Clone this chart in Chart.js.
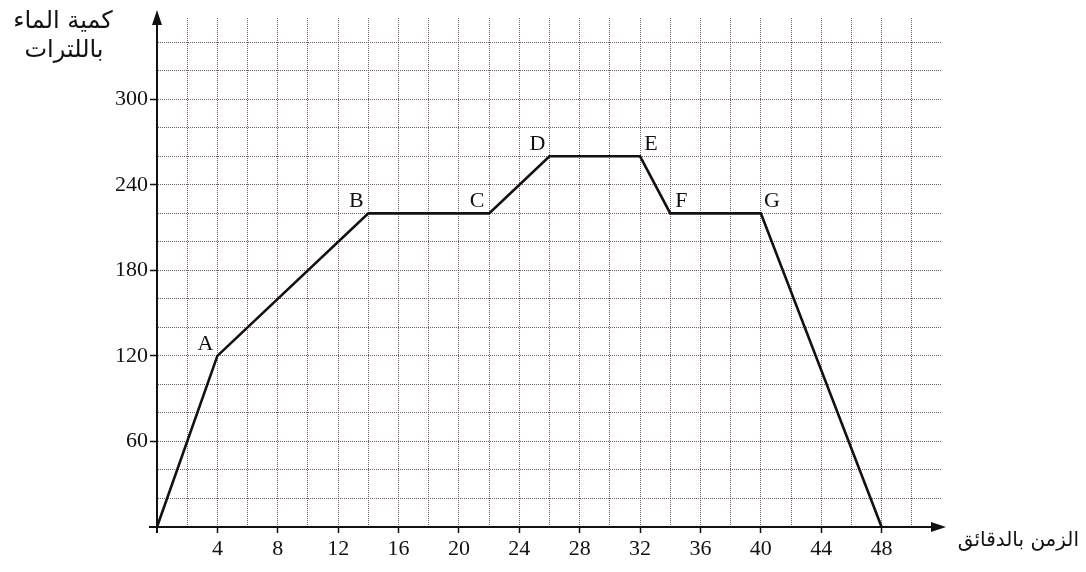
<!DOCTYPE html>
<html>
<head>
<meta charset="utf-8">
<script src="https://cdn.jsdelivr.net/npm/chart.js@4.4.1/dist/chart.umd.min.js"></script>
<style>
  body { margin: 0; background: #fff; }
  #wrap { width: 1086px; height: 572px; position: relative; }
</style>
</head>
<body>
<div id="wrap"><canvas id="waterChart"></canvas></div>
<script>
// minutes and litres at each corner of the graph
const times = [0, 4, 14, 22, 26, 32, 34, 40, 48];
const litres = [0, 120, 220, 220, 260, 260, 220, 220, 0];
const pointNames = ["", "A", "B", "C", "D", "E", "F", "G", ""];
const xTickLabels = [4, 8, 12, 16, 20, 24, 28, 32, 36, 40, 44, 48];
const yTickLabels = [60, 120, 180, 240, 300];

const yTitle = ["كمية الماء", "باللترات"];
const xTitle = "الزمن بالدقائق";

const gridColor = "rgba(105, 65, 95, 0.9)";

const extras = {
  id: "extras",
  afterDraw(chart) {
    const { ctx, scales } = chart;
    const x = scales.x, y = scales.y;
    const x0 = x.getPixelForValue(0), y0 = y.getPixelForValue(0);
    ctx.save();
    ctx.setLineDash([]);
    ctx.strokeStyle = "#111";
    ctx.fillStyle = "#111";
    ctx.lineWidth = 2;
    // solid axes with arrows on top of the dotted grid
    ctx.beginPath();
    ctx.moveTo(x0, y0 + 6);
    ctx.lineTo(x0, 20);
    ctx.moveTo(x0 - 8, y0);
    ctx.lineTo(935, y0);
    ctx.stroke();
    ctx.beginPath();
    ctx.moveTo(x0, 10);
    ctx.lineTo(x0 - 5, 25);
    ctx.lineTo(x0 + 5, 25);
    ctx.closePath();
    ctx.fill();
    ctx.beginPath();
    ctx.moveTo(946, y0);
    ctx.lineTo(931, y0 - 5);
    ctx.lineTo(931, y0 + 5);
    ctx.closePath();
    ctx.fill();

    // point letters
    ctx.font = "22px 'Liberation Serif'";
    ctx.textBaseline = "middle";
    ctx.textAlign = "center";
    pointNames.forEach((name, i) => {
      if (!name) return;
      const px = x.getPixelForValue(times[i]);
      const py = y.getPixelForValue(litres[i]);
      const right = ["E", "F", "G"].includes(name);
      ctx.fillText(name, px + (right ? 11 : -12), py - 12);
    });

    // axis titles
    ctx.textBaseline = "alphabetic";
    ctx.font = "24px 'DejaVu Sans'";
    ctx.textAlign = "center";
    ctx.fillText(yTitle[0], 63, 28);
    ctx.fillText(yTitle[1], 64, 57);
    ctx.font = "20px 'DejaVu Sans'";
    ctx.textAlign = "right";
    ctx.fillText(xTitle, 1079, 546);
    ctx.restore();
  }
};

new Chart(document.getElementById("waterChart"), {
  type: "line",
  data: {
    datasets: [{
      data: times.map((t, i) => ({ x: t, y: litres[i] })),
      borderColor: "#111",
      borderWidth: 2.6,
      pointRadius: 0,
      tension: 0
    }]
  },
  options: {
    responsive: true,
    maintainAspectRatio: false,
    animation: false,
    layout: { padding: { top: 18, right: 144, left: 0, bottom: 0 } },
    plugins: { legend: { display: false }, tooltip: { enabled: false } },
    scales: {
      x: {
        type: "linear",
        min: 0,
        max: 52,
        afterFit: s => { s.height = 45; },
        border: { color: "#111", width: 2, dash: [1, 1] },
        grid: {
          color: c => (c.tick.value === 0 || c.tick.value === 52 ? "transparent" : gridColor),
          tickColor: c => (xTickLabels.includes(c.tick.value) ? "#111" : "transparent"),
          tickLength: 6,
          lineWidth: 1,
          tickWidth: 1.5,
          tickBorderDash: []
        },
        ticks: {
          stepSize: 2,
          autoSkip: false,
          maxRotation: 0,
          padding: 3,
          color: "#111",
          font: { family: "'Liberation Serif'", size: 22 },
          callback: v => (xTickLabels.includes(v) ? v : "")
        }
      },
      y: {
        min: 0,
        max: 357,
        afterFit: s => { s.width = 157; },
        afterBuildTicks: s => {
          const t = [];
          for (let v = 0; v <= 340; v += 20) t.push({ value: v });
          s.ticks = t;
        },
        border: { color: "#111", width: 2, dash: [1, 1] },
        grid: {
          color: c => (c.tick.value === 0 ? "transparent" : gridColor),
          tickColor: c => (yTickLabels.includes(c.tick.value) ? "#111" : "transparent"),
          tickLength: 7,
          lineWidth: 1,
          tickWidth: 1.5,
          tickBorderDash: []
        },
        ticks: {
          autoSkip: false,
          padding: 2,
          color: "#111",
          font: { family: "'Liberation Serif'", size: 22 },
          callback: v => (yTickLabels.includes(v) ? v : "")
        }
      }
    }
  },
  plugins: [extras]
});
</script>
</body>
</html>
